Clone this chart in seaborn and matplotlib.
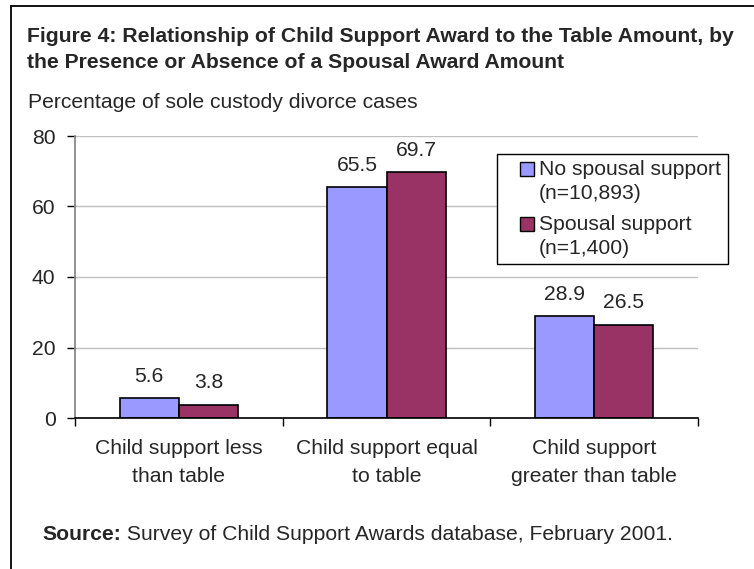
import matplotlib
matplotlib.use("Agg")
import matplotlib.pyplot as plt
from matplotlib.lines import Line2D
from matplotlib.patches import Patch, Rectangle
from matplotlib.legend_handler import HandlerPatch
import seaborn as sns
import pandas as pd

# Data
categories = ["Child support less\nthan table",
              "Child support equal\nto table",
              "Child support\ngreater than table"]
series_names = ["No spousal support\n(n=10,893)", "Spousal support\n(n=1,400)"]
no_spousal = [5.6, 65.5, 28.9]
spousal = [3.8, 69.7, 26.5]
y_ticks = [0, 20, 40, 60, 80]
colors = ["#9999FF", "#993366"]

df = pd.DataFrame({
    "category": categories * 2,
    "group": [series_names[0]] * len(categories) + [series_names[1]] * len(categories),
    "value": no_spousal + spousal,
})

sns.set_theme(style="white")
plt.rcParams["font.family"] = ["Liberation Sans", "DejaVu Sans"]
FS = 15.2


class SquareHandler(HandlerPatch):
    """Small square key, right-aligned in the handle box and raised to the first text line."""

    def __init__(self, size, dy, **kw):
        super().__init__(**kw)
        self.size = size
        self.dy = dy

    def create_artists(self, legend, orig_handle, xdescent, ydescent,
                       width, height, fontsize, trans):
        s = self.size * fontsize
        x = -xdescent + width - s
        y = -ydescent + (height - s) / 2 + self.dy * fontsize
        r = Rectangle((x, y), s, s, facecolor=orig_handle.get_facecolor(),
                      edgecolor="black", linewidth=1, transform=trans)
        return [r]


W, H = 754, 569
fig = plt.figure(figsize=(W / 100, H / 100), dpi=100)
fig.patch.set_facecolor("white")

ax = fig.add_axes([75 / W, 1 - 418 / H, (698 - 75) / W, (418 - 136) / H])
sns.barplot(data=df, x="category", y="value", hue="group",
            order=categories, hue_order=series_names, palette=colors,
            width=0.57, gap=0, edgecolor="black", linewidth=1.2,
            saturation=1, errorbar=None, ax=ax, legend=False)

# Value labels above each bar
for cont, vals in zip(ax.containers, [no_spousal, spousal]):
    ax.bar_label(cont, labels=[f"{v:.1f}" for v in vals], padding=9, fontsize=FS)

ax.set_ylim(0, 80)
ax.set_xlim(-0.5, len(categories) - 0.5)
ax.set_yticks(y_ticks)
ax.set_xlabel("")
ax.set_ylabel("")
ax.yaxis.grid(True, color="#C0C0C0", linewidth=1)
ax.set_axisbelow(True)
for side in ("top", "right"):
    ax.spines[side].set_visible(False)
ax.spines["left"].set_color("#808080")
ax.spines["bottom"].set_color("black")
ax.spines["left"].set_linewidth(1.2)
ax.spines["bottom"].set_linewidth(1.2)

# Category boundaries carry the tick marks, labels sit between them
ax.set_xticks([i - 0.5 for i in range(len(categories) + 1)], minor=True)
ax.tick_params(axis="x", which="major", length=0, pad=15, labelsize=FS)
ax.tick_params(axis="x", which="minor", length=6, width=1, color="black",
               direction="out", bottom=True)
ax.tick_params(axis="y", length=6, width=1, color="black", direction="out",
               pad=8, labelsize=FS, left=True)
for lbl in ax.get_xticklabels():
    lbl.set_linespacing(1.58)
    lbl.set_ha("center")

# Legend
handles = [Patch(facecolor=c, edgecolor="black", linewidth=1) for c in colors]
leg = ax.legend(handles, series_names, loc="upper left",
                bbox_to_anchor=(497 / W, 1 - 154 / H), bbox_transform=fig.transFigure,
                frameon=True, fancybox=False, framealpha=1, fontsize=FS,
                handlelength=1.45, handleheight=0.7, handletextpad=0.25,
                labelspacing=0.6, borderpad=0.3, borderaxespad=0,
                handler_map={Patch: SquareHandler(0.67, 0.6)})
for t in leg.get_texts():
    t.set_linespacing(1.3)
leg.get_frame().set_edgecolor("black")
leg.get_frame().set_linewidth(1)

# Title, subtitle and source
fig.text(27 / W, 1 - 49.5 / H,
         "Figure 4: Relationship of Child Support Award to the Table Amount, by\n"
         "the Presence or Absence of a Spousal Award Amount",
         fontsize=FS, fontweight="bold", ha="left", va="center", linespacing=1.5)
fig.text(28 / W, 1 - 103 / H, "Percentage of sole custody divorce cases",
         fontsize=FS, ha="left", va="center")
src = fig.text(42 / W, 1 - 534 / H, "Source:", fontsize=FS, fontweight="bold",
               ha="left", va="center")
ax.annotate(" Survey of Child Support Awards database, February 2001.",
            xy=(1, 0), xycoords=src, ha="left", va="bottom", fontsize=FS)

# Frame lines along the left and top edges
fig.add_artist(Line2D([11 / W, 11 / W], [0, 1 - 6 / H], transform=fig.transFigure,
                      color="black", linewidth=1.3))
fig.add_artist(Line2D([11 / W, 1], [1 - 6 / H, 1 - 6 / H], transform=fig.transFigure,
                      color="black", linewidth=1.3))

fig.savefig("out.png", dpi=100)
